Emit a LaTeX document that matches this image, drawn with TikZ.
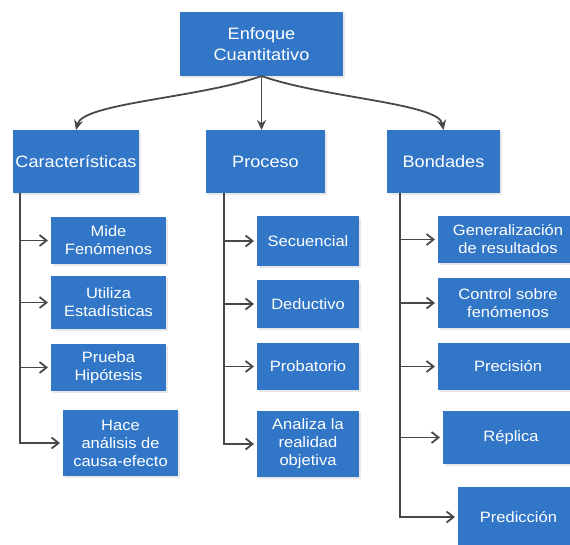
\documentclass[tikz,border=0pt]{standalone}
\usepackage{fontspec}
\setmainfont{Liberation Sans}[FakeStretch=1.1]
\usetikzlibrary{arrows.meta,shadows}
\definecolor{boxblue}{RGB}{50,118,200}
\definecolor{linegray}{RGB}{72,72,72}
\tikzstyle{bluebox} = [align=center,fill=boxblue,text=white,outer sep=0,inner sep=1,
  drop shadow={shadow xshift=1.5pt,shadow yshift=-1.5pt,opacity=0.18}]
\tikzstyle{mainbox} = [bluebox,font=\fontsize{16.5}{21}\selectfont]
\tikzstyle{subbox} = [bluebox,font=\fontsize{15}{18}\selectfont]
\tikzstyle{arrow} = [draw=linegray,line width=1.8pt,-{Stealth[length=10pt,width=9pt]}]
\tikzstyle{branch} = [draw=linegray,line width=1.8pt,-{Straight Barb[length=7pt,width=11pt]},shorten >=3pt]

\begin{document}
\begin{tikzpicture}[x=1pt,y=-1pt]
    \useasboundingbox (0,0) rectangle (570,544);
    \clip (0,0) rectangle (570,544);

    \node [mainbox,minimum width=163,minimum height=64] (enf) at (261.5,44) {Enfoque\\Cuantitativo};
    \node [mainbox,minimum width=126,minimum height=63] (car) at (76,161.5) {Características};
    \node [mainbox,minimum width=119,minimum height=63] (pro) at (265.5,161.5) {Proceso};
    \node [mainbox,minimum width=113,minimum height=63] (bon) at (443.5,161.5) {Bondades};

    \draw [arrow] (enf.south) .. controls +(-62,22) and +(7,-27) .. (car.north);
    \draw [arrow] (enf.south) -- (pro.north -| enf.south);
    \draw [arrow] (enf.south) .. controls +(62,22) and +(-5,-27) .. (bon.north);

    % caracteristicas
    \node [subbox,minimum width=115,minimum height=47] (mide) at (108.5,240.5) {Mide\\Fenómenos};
    \node [subbox,minimum width=115,minimum height=53] (uti) at (108.5,302.5) {Utiliza\\Estadísticas};
    \node [subbox,minimum width=115,minimum height=47] (pru) at (108.5,367.5) {Prueba\\Hipótesis};
    \node [subbox,minimum width=115,minimum height=66] (hac) at (120.5,443) {Hace\\análisis de\\causa-efecto};

    % proceso
    \node [subbox,minimum width=102,minimum height=50] (sec) at (308,241) {Secuencial};
    \node [subbox,minimum width=102,minimum height=48] (ded) at (308,304) {Deductivo};
    \node [subbox,minimum width=102,minimum height=47] (prb) at (308,366.5) {Probatorio};
    \node [subbox,minimum width=102,minimum height=66] (ana) at (308,444) {Analiza la\\realidad\\objetiva};

    % bondades
    \node [subbox,minimum width=140,minimum height=47] (gen) at (508,239.5) {Generalización\\de resultados};
    \node [subbox,minimum width=140,minimum height=50] (con) at (508,303) {Control sobre\\fenómenos};
    \node [subbox,minimum width=140,minimum height=47] (pre) at (508,366.5) {Precisión};
    \node [subbox,minimum width=136,minimum height=53] (rep) at (511,437.5) {Réplica};
    \node [subbox,minimum width=121,minimum height=60] (prd) at (518.5,517) {Predicción};

    \coordinate (cart) at ([xshift=7]car.south west);
    \coordinate (prot) at ([xshift=18]pro.south west);
    \coordinate (bont) at ([xshift=13]bon.south west);

    \draw [branch] (cart) |- (mide.west);
    \draw [branch] (cart) |- (uti.west);
    \draw [branch] (cart) |- (pru.west);
    \draw [branch] (cart) |- (hac.west);

    \draw [branch] (prot) |- (sec.west);
    \draw [branch] (prot) |- (ded.west);
    \draw [branch] (prot) |- (prb.west);
    \draw [branch] (prot) |- (ana.west);

    \draw [branch] (bont) |- (gen.west);
    \draw [branch] (bont) |- (con.west);
    \draw [branch] (bont) |- (pre.west);
    \draw [branch] (bont) |- (rep.west);
    \draw [branch] (bont) |- (prd.west);
\end{tikzpicture}
\end{document}
